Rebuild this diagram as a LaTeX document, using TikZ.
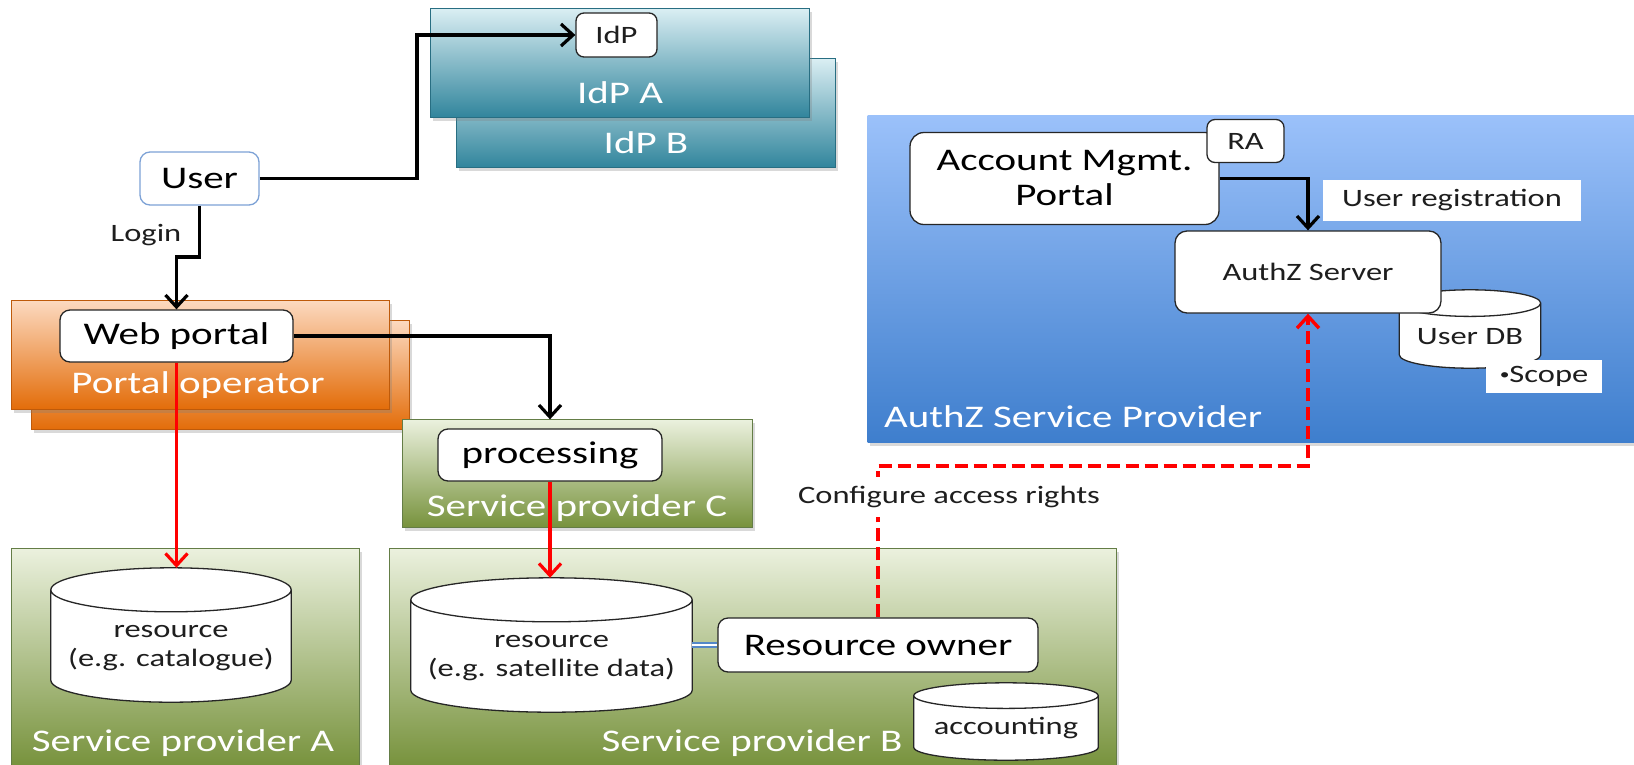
\documentclass[tikz,border=0pt]{standalone}
\usepackage{fontspec}
\setmainfont[FakeStretch=1.3]{Carlito}
\usetikzlibrary{arrows.meta,shadows,calc}

\definecolor{idpTop}{RGB}{218,238,243}
\definecolor{idpBot}{RGB}{49,133,156}
\definecolor{idpLine}{RGB}{40,110,130}
\definecolor{poTop}{RGB}{252,218,192}
\definecolor{poBot}{RGB}{227,108,9}
\definecolor{poLine}{RGB}{190,90,10}
\definecolor{spTop}{RGB}{235,241,222}
\definecolor{spBot}{RGB}{119,146,60}
\definecolor{spLine}{RGB}{100,125,70}
\definecolor{azTop}{RGB}{155,193,250}
\definecolor{azBot}{RGB}{62,126,205}
\definecolor{userLine}{RGB}{125,162,214}
\definecolor{linkBlue}{RGB}{84,136,200}
\definecolor{textGrey}{RGB}{30,30,30}

\tikzset{
  bigtxt/.style={font=\fontsize{31.5}{36}\selectfont},
  smalltxt/.style={font=\fontsize{25}{29}\selectfont, text=textGrey},
  groupbox/.style={rectangle, anchor=north west, inner sep=0pt, line width=1pt,
    drop shadow={opacity=0.3, shadow xshift=2pt, shadow yshift=-3pt}},
  idpgroup/.style={groupbox, draw=idpLine, top color=idpTop, bottom color=idpBot},
  pogroup/.style={groupbox, draw=poLine, top color=poTop, bottom color=poBot},
  spgroup/.style={groupbox, draw=spLine, top color=spTop, bottom color=spBot},
  azgroup/.style={groupbox, draw=none, top color=azTop, bottom color=azBot},
  grouplabel/.style={bigtxt, text=white, inner sep=0pt},
  wbox/.style={rectangle, rounded corners=10pt, draw=black!85, line width=1.3pt,
    fill=white, inner sep=0pt, bigtxt},
  wboxsmall/.style={wbox, smalltxt, rounded corners=8pt},
  drumbox/.style={rectangle, inner sep=0pt, draw=none},
  drum/.style={draw=black!85, fill=white, line width=1.3pt},
  tagbox/.style={rectangle, fill=white, inner sep=0pt, smalltxt},
  blk/.style={draw=black, line width=3.4pt, -{Straight Barb[length=12pt,width=22pt,line width=3.2pt]}},
  redline/.style={draw=red, line width=3.2pt, -{Straight Barb[length=12pt,width=22pt,line width=3.2pt]}},
  reddash/.style={draw=red, line width=4pt, dash pattern=on 13pt off 6pt,
    -{Straight Barb[length=12pt,width=22pt,line width=3.4pt]}},
  dbl/.style={draw=linkBlue, line width=2.2pt, double=white, double distance=2.4pt}
}

% cylinder outline around a named rectangular node; #2 = half height of the end ellipses
\newcommand\drumshape[2]{%
  \path[drum] let \p1=(#1.north west), \p2=(#1.south east), \n1={(\x2-\x1)/2} in
    (\x1,\y1-#2) -- (\x1,\y2+#2)
      arc[start angle=180, end angle=360, x radius=\n1, y radius=#2]
      -- (\x2,\y1-#2)
      arc[start angle=0, end angle=180, x radius=\n1, y radius=#2] -- cycle
    (\x1,\y1-#2) arc[start angle=180, end angle=360, x radius=\n1, y radius=#2];
}
% small bullet for list-like tags
\newcommand\tagdot{\raisebox{0.1em}{\fontsize{15}{15}\selectfont\textbullet}}

\begin{document}
\begin{tikzpicture}[x=1pt, y=-1pt]
\useasboundingbox (0,0) rectangle (1634,764);

% ---------- group areas ----------
\node[idpgroup, minimum width=379, minimum height=109] (idpB) at (456,58) {};
\node[idpgroup, minimum width=379, minimum height=109] (idpA) at (430,8) {};
\node[grouplabel] at (646,143) {IdP B};
\node[grouplabel] at (620,93) {IdP A};

\node[pogroup, minimum width=378, minimum height=109] (poB) at (31,320) {};
\node[pogroup, minimum width=378, minimum height=109] (poA) at (11,300) {};
\node[grouplabel] at (198,385) {Portal operator};

\node[spgroup, minimum width=350, minimum height=108] (spC) at (402,419) {};
\node[grouplabel] at (577,508) {Service provider C};

\node[spgroup, minimum width=348, minimum height=218] (spA) at (11,548) {};
\node[grouplabel] at (183,743) {Service provider A};

\node[spgroup, minimum width=727, minimum height=218] (spB) at (389,548) {};
\node[grouplabel] at (752,743) {Service provider B};

\node[azgroup, minimum width=768, minimum height=327] (azSP) at (867,115) {};
\node[grouplabel, anchor=west] at (884,417) {AuthZ Service Provider};

% ---------- data stores ----------
\node[drumbox, minimum width=240, minimum height=134] (resA) at (171,635) {};
\drumshape{resA}{22pt}
\node[smalltxt, align=center] at (171,648) {resource\\(e.g. catalogue)};

\node[drumbox, minimum width=281, minimum height=134] (resB) at (551.5,645) {};
\drumshape{resB}{22pt}
\node[smalltxt, align=center] at (551.5,658) {resource\\(e.g. satellite data)};

\node[drumbox, minimum width=184, minimum height=77] (acct) at (1006,721.5) {};
\drumshape{acct}{12.8pt}
\node[smalltxt] at (1006,728) {accounting};

\node[drumbox, minimum width=141, minimum height=78] (udb) at (1470,329) {};
\drumshape{udb}{13.3pt}
\node[smalltxt] at (1470,337) {User DB};

% ---------- components ----------
\node[wboxsmall, minimum width=81, minimum height=44] (idp) at (616.5,35) {IdP};
\node[wbox, draw=userLine, minimum width=119, minimum height=53] (user) at (199.5,178.5) {User};
\node[wbox, minimum width=233, minimum height=52] (wp) at (176.5,336) {Web portal};
\node[wbox, minimum width=224, minimum height=52] (proc) at (550,455) {processing};
\node[wbox, minimum width=320, minimum height=54] (ro) at (878,645) {Resource owner};
\node[wbox, minimum width=309, minimum height=92, align=center, rounded corners=14pt]
  (amp) at (1064.5,178.5) {Account Mgmt.\\[-1pt]Portal};
\node[wboxsmall, minimum width=77, minimum height=43] (ra) at (1245.5,141) {RA};
\node[wboxsmall, minimum width=266, minimum height=82, rounded corners=12pt] (authz) at (1308,272) {AuthZ Server};
\node[tagbox, minimum width=258, minimum height=41] (ureg) at (1452,200) {User registration};
\node[tagbox, minimum width=116, minimum height=33] (scope) at (1544,376) {\tagdot Scope};

% ---------- connectors ----------
\coordinate (ujog) at (417,0);
\coordinate (ljog) at (0,257);
\coordinate (djog) at (0,466);

\draw[blk] (user.east) -- (user.east -| ujog) |- (idp.west);
\draw[blk] (user.south) -- (user.south |- ljog) -| (wp.north);
\node[smalltxt] at (146,235) {Login};
\draw[blk, shorten >=9pt] (wp.east) -| (proc.north);
\draw[blk] (amp.east) -| (authz.north);

\draw[redline] (wp.south) -- (wp.south |- resA.north);
\draw[redline] (proc.south) -- (proc.south |- resB.north);

\draw[dbl] (resB.east) -- (ro.west);

\draw[reddash] (ro.north) -- (ro.north |- djog) -| (authz.south);
\node[smalltxt, fill=white, inner xsep=4pt, inner ysep=9pt] (cfg) at (949,497) {Configure access rights};
\end{tikzpicture}
\end{document}
